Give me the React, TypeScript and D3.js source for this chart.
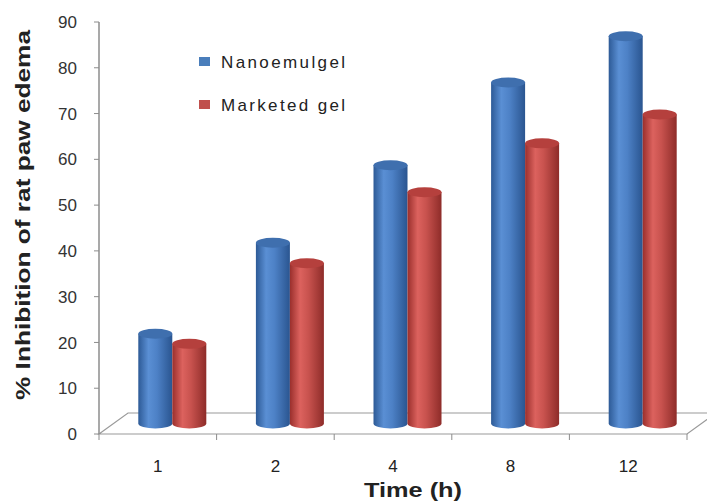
import React from "react";
import * as d3 from "d3";

const categories = ["1", "2", "4", "8", "12"];
const nanoemulgel = [19.6, 39.5, 56.4, 74.5, 84.6];
const marketedGel = [17.4, 35, 50.5, 61.2, 67.5];
const yTicks = [0, 10, 20, 30, 40, 50, 60, 70, 80, 90];
const seriesNames = ["Nanoemulgel", "Marketed gel"];

const W = 707;
const H = 504;
const FONT = "'Liberation Sans', Arial, sans-serif";

export default function App() {
  const left = 99;
  const right = 687;
  const y = d3.scaleLinear().domain([0, 90]).range([434, 22]);
  const x = d3.scaleBand<string>().domain(categories).range([left, right]);
  const depthX = 29;
  const depthY = 21;
  const barOffX = depthX / 2;
  const barOffY = depthY / 2;
  const barW = 34;
  const rx = barW / 2;
  const ry = 5;

  const series = [
    { name: seriesNames[0], values: nanoemulgel, grad: "gBlue", top: "#3f6fae", sw: "#4a7ebb" },
    { name: seriesNames[1], values: marketedGel, grad: "gRed", top: "#b5403d", sw: "#c0504d" },
  ];

  const base = y(0) - barOffY;

  return (
    <svg width={W} height={H} style={{ position: "absolute", left: 0, top: 0, background: "#fff" }}>
      <defs>
        <linearGradient id="gBlue" x1="0" x2="1" y1="0" y2="0">
          <stop offset="0" stopColor="#2d5a96" />
          <stop offset="0.3" stopColor="#5a8fd4" />
          <stop offset="0.55" stopColor="#4d81c6" />
          <stop offset="1" stopColor="#2a5590" />
        </linearGradient>
        <linearGradient id="gRed" x1="0" x2="1" y1="0" y2="0">
          <stop offset="0" stopColor="#9a2f2c" />
          <stop offset="0.3" stopColor="#dc625e" />
          <stop offset="0.55" stopColor="#c8524e" />
          <stop offset="1" stopColor="#8e2c29" />
        </linearGradient>
      </defs>

      {/* floor */}
      <path
        d={`M${left},${y(0)} L${left + depthX},${y(0) - depthY} L${right + depthX},${y(0) - depthY} L${right},${y(0)} Z`}
        fill="#ffffff"
        stroke="#9a9a9a"
        strokeWidth={1.2}
      />

      {/* y axis */}
      <line x1={left} x2={left} y1={y(90)} y2={y(0)} stroke="#8c8c8c" strokeWidth={1.5} />
      {yTicks.map((t) => (
        <g key={t}>
          <line x1={left - 5} x2={left} y1={y(t)} y2={y(t)} stroke="#8c8c8c" strokeWidth={1} />
          <text
            x={left - 22}
            y={y(t)}
            dy="0.36em"
            textAnchor="end"
            fontFamily={FONT}
            fontSize={17}
            fill="#333"
          >
            {t}
          </text>
        </g>
      ))}

      {/* x axis ticks and labels */}
      {[...categories.map((c) => x(c) as number), right].map((px, i) => (
        <line key={i} x1={px} x2={px} y1={y(0)} y2={y(0) + 6} stroke="#8c8c8c" strokeWidth={1} />
      ))}
      {categories.map((c) => (
        <text
          key={c}
          x={(x(c) as number) + x.bandwidth() / 2}
          y={472}
          textAnchor="middle"
          fontFamily={FONT}
          fontSize={17}
          fill="#222"
        >
          {c}
        </text>
      ))}

      {/* bars */}
      {categories.map((c, i) => {
        const cx = (x(c) as number) + x.bandwidth() / 2 + barOffX;
        return (
          <g key={c}>
            {series.map((s, si) => {
              const x0 = cx - barW + si * barW;
              const x1 = x0 + barW;
              const topY = base - (y(0) - y(s.values[i]));
              return (
                <g key={s.name}>
                  <path
                    d={`M${x0},${topY} L${x0},${base} A${rx},${ry} 0 0 0 ${x1},${base} L${x1},${topY} Z`}
                    fill={`url(#${s.grad})`}
                  />
                  <ellipse cx={x0 + rx} cy={topY} rx={rx} ry={ry} fill={s.top} />
                </g>
              );
            })}
          </g>
        );
      })}

      {/* legend */}
      {series.map((s, i) => (
        <g key={s.name} transform={`translate(199, ${57 + i * 43})`}>
          <rect x={0} y={0} width={11} height={9} fill={s.sw} />
          <text
            x={22}
            y={4.5}
            dy="0.36em"
            fontFamily={FONT}
            fontSize={17}
            fill="#222"
            textLength={124}
            lengthAdjust="spacing"
          >
            {s.name}
          </text>
        </g>
      ))}

      {/* axis titles */}
      <text
        transform={`translate(30, ${215}) rotate(-90)`}
        textAnchor="middle"
        fontFamily={FONT}
        fontSize={20}
        fontWeight="bold"
        fill="#222"
        textLength={370}
        lengthAdjust="spacingAndGlyphs"
      >
        % Inhibition of rat paw edema
      </text>
      <text
        x={413}
        y={497}
        textAnchor="middle"
        fontFamily={FONT}
        fontSize={21}
        fontWeight="bold"
        fill="#222"
        textLength={98}
        lengthAdjust="spacingAndGlyphs"
      >
        Time (h)
      </text>
    </svg>
  );
}
